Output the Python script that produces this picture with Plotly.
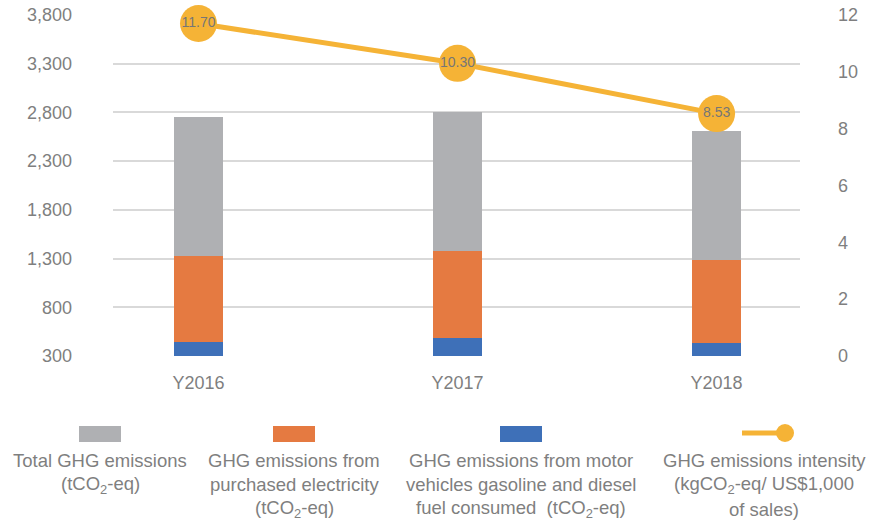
import plotly.graph_objects as go

# ---- data ----
years = ["Y2016", "Y2017", "Y2018"]
total_ghg = [2751, 2802, 2607]
electricity_ghg = [1326, 1375, 1285]
vehicle_ghg = [444, 485, 433]
intensity = [11.70, 10.30, 8.53]

left_ticks = [300, 800, 1300, 1800, 2300, 2800, 3300, 3800]
right_ticks = [0, 2, 4, 6, 8, 10, 12]

legend_entries = [
    ["Total GHG emissions", "(tCO<sub>2</sub>-eq)"],
    ["GHG emissions from", "purchased electricity", "(tCO<sub>2</sub>-eq)"],
    ["GHG emissions from motor", "vehicles gasoline and diesel", "fuel consumed  (tCO<sub>2</sub>-eq)"],
    ["GHG emissions intensity", "(kgCO<sub>2</sub>-eq/ US$1,000", "of sales)"],
]

# ---- style ----
GRAY = "#AFB0B3"
ORANGE = "#E57A41"
BLUE = "#3E70B8"
YELLOW = "#F5B336"
TEXT = "#7F7F7F"
FONT = "Liberation Sans, Arial, sans-serif"

W, H = 869, 520
L, R, T, B = 113, 800, 15, 356  # plot area in pixels


def px(x):
    return (x - L) / (R - L)


def py(y):
    return (B - y) / (B - T)


fig = go.Figure()
for name, vals, col in [("Total", total_ghg, GRAY),
                        ("Electricity", electricity_ghg, ORANGE),
                        ("Vehicles", vehicle_ghg, BLUE)]:
    fig.add_trace(go.Bar(x=years, y=vals, name=name, marker=dict(color=col, line=dict(width=0)),
                         width=0.19, showlegend=False, hoverinfo="y"))

fig.add_trace(go.Scatter(
    x=years, y=intensity, yaxis="y2", mode="lines+markers+text",
    line=dict(color=YELLOW, width=5),
    marker=dict(color=YELLOW, size=37, line=dict(width=0)),
    text=[f"{v:.2f}" for v in intensity], textposition="middle center",
    textfont=dict(family=FONT, size=14, color="#767676"),
    cliponaxis=False, showlegend=False,
))

# ---- custom legend ----
shapes = []
annotations = []
centers = [100, 294, 521, 764]
for cx, col in zip(centers[:3], [GRAY, ORANGE, BLUE]):
    shapes.append(dict(type="rect", xref="paper", yref="paper",
                       x0=px(cx - 21), x1=px(cx + 21), y0=py(442), y1=py(426),
                       fillcolor=col, line=dict(width=0)))
shapes.append(dict(type="line", xref="paper", yref="paper",
                   x0=px(742), x1=px(785), y0=py(433), y1=py(433),
                   line=dict(color=YELLOW, width=5)))
shapes.append(dict(type="circle", xref="paper", yref="paper",
                   x0=px(776), x1=px(794), y0=py(442), y1=py(424),
                   fillcolor=YELLOW, line=dict(width=0)))

for cx, lines in zip(centers, legend_entries):
    for i, t in enumerate(lines):
        annotations.append(dict(text=t, xref="paper", yref="paper",
                                x=px(cx), y=py(460 + 24.5 * i),
                                xanchor="center", yanchor="middle", showarrow=False,
                                font=dict(family=FONT, size=18.5, color=TEXT)))

fig.update_layout(
    width=W, height=H,
    margin=dict(l=L, r=W - R, t=T, b=H - B, pad=0, autoexpand=False),
    paper_bgcolor="white", plot_bgcolor="white",
    barmode="overlay", bargap=0,
    font=dict(family=FONT, size=18, color=TEXT),
    xaxis=dict(type="category", range=[-0.33, 2.322], showgrid=False, zeroline=False,
               showline=False, ticks="", ticklabelstandoff=14, automargin=False,
               tickfont=dict(family=FONT, size=18, color=TEXT)),
    yaxis=dict(range=[300, 3800], tickvals=left_ticks, tickformat=",d",
               showgrid=True, gridcolor="#D9D9D9", gridwidth=1.5, zeroline=False,
               showline=False, ticks="", ticklabelstandoff=40, automargin=False,
               tickfont=dict(family=FONT, size=18, color=TEXT)),
    yaxis2=dict(range=[0, 12], tickvals=right_ticks, overlaying="y", side="right",
                showgrid=False, zeroline=False, showline=False, ticks="",
                ticklabelstandoff=37, automargin=False,
                tickfont=dict(family=FONT, size=18, color=TEXT)),
    shapes=shapes, annotations=annotations, showlegend=False,
)

fig.write_html("out.html", config={"displayModeBar": False},
               post_script="document.body.style.margin='0';document.body.style.overflow='hidden';")
